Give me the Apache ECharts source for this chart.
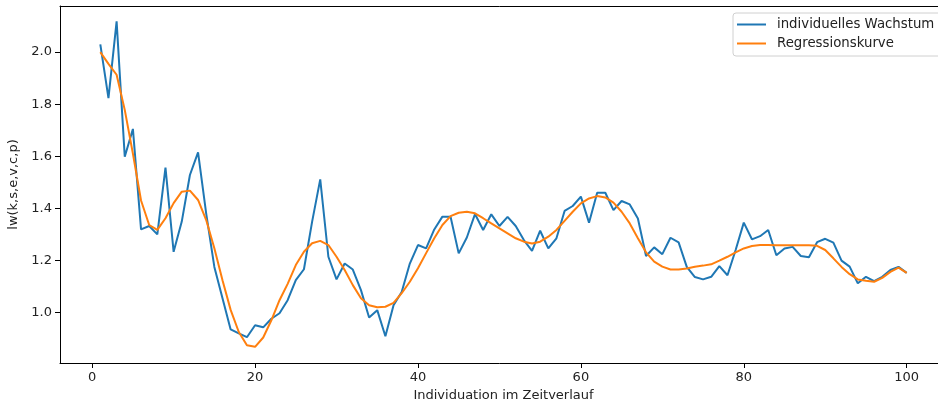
<!DOCTYPE html>
<html>
<head>
<meta charset="utf-8">
<script src="https://cdn.jsdelivr.net/npm/echarts@6/dist/echarts.min.js"></script>
<style>html,body{margin:0;padding:0;background:#fff;}#c{width:938px;height:407px;}</style>
</head>
<body>
<div id="c"></div>
<script>
const xValues = [];
for (let i = 1; i <= 100; i++) xValues.push(i);

const wachstum = [2.03,1.823,2.118,1.598,1.705,1.319,1.332,1.30,1.556,1.233,
1.349,1.528,1.615,1.38,1.175,1.055,0.935,0.92,0.905,0.951,
0.943,0.976,0.997,1.047,1.124,1.166,1.348,1.511,1.214,1.127,
1.188,1.165,1.086,0.981,1.009,0.909,1.028,1.079,1.188,1.259,
1.246,1.319,1.368,1.368,1.227,1.288,1.378,1.317,1.377,1.332,
1.367,1.332,1.278,1.237,1.314,1.246,1.285,1.39,1.409,1.445,
1.345,1.46,1.46,1.393,1.428,1.415,1.361,1.217,1.25,1.224,
1.287,1.269,1.175,1.136,1.127,1.137,1.178,1.143,1.24,1.345,
1.281,1.293,1.317,1.22,1.246,1.252,1.217,1.212,1.27,1.283,
1.268,1.199,1.176,1.112,1.137,1.12,1.137,1.163,1.175,1.152];

const regression = [2.00,1.955,1.913,1.778,1.61,1.43,1.336,1.317,1.362,1.42,
1.464,1.468,1.432,1.355,1.247,1.124,1.01,0.925,0.874,0.868,
0.904,0.97,1.047,1.11,1.182,1.233,1.266,1.275,1.259,1.214,
1.163,1.105,1.055,1.028,1.02,1.022,1.037,1.074,1.118,1.17,
1.228,1.285,1.336,1.37,1.383,1.387,1.381,1.362,1.342,1.323,
1.304,1.285,1.272,1.265,1.272,1.291,1.317,1.352,1.387,1.419,
1.438,1.447,1.442,1.422,1.387,1.342,1.285,1.231,1.195,1.176,
1.165,1.165,1.169,1.176,1.18,1.185,1.199,1.214,1.231,1.246,
1.255,1.259,1.259,1.258,1.258,1.258,1.258,1.258,1.256,1.24,
1.208,1.175,1.147,1.127,1.122,1.118,1.133,1.156,1.172,1.152];

const xTicks = [0, 20, 40, 60, 80, 100];
const yTicks = [1.0, 1.2, 1.4, 1.6, 1.8, 2.0];

const font = 'DejaVu Sans';
const chart = echarts.init(document.getElementById('c'), null, {renderer: 'canvas'});
chart.setOption({
  animation: false,
  backgroundColor: '#fff',
  grid: {left: 60, right: -9, top: 6, bottom: 44, outerBoundsMode: 'none', containLabel: false, show: false},
  legend: {
    orient: 'vertical', left: 733, top: 13,
    data: ['individuelles Wachstum', 'Regressionskurve'],
    icon: 'rect', itemWidth: 29, itemHeight: 2, itemGap: 6,
    padding: [5, 16, 6, 4],
    borderColor: '#d0d0d0', borderWidth: 1, borderRadius: 3,
    backgroundColor: 'rgba(255,255,255,0.8)',
    textStyle: {fontFamily: font, fontSize: 13.3, color: '#222', padding: [0, 0, 0, 6]}
  },
  xAxis: [{
    type: 'value', min: -3.95, max: 104.95,
    name: 'Individuation im Zeitverlauf', nameLocation: 'middle', nameGap: 26,
    nameTextStyle: {fontFamily: font, fontSize: 13, color: '#222'},
    axisLine: {show: true, onZero: false, lineStyle: {color: '#000', width: 1}},
    axisTick: {show: true, length: 5, lineStyle: {color: '#000'}, customValues: xTicks},
    axisLabel: {fontFamily: font, fontSize: 13, color: '#222', margin: 8, customValues: xTicks, formatter: v => String(v)},
    splitLine: {show: false}
  }, {
    type: 'value', position: 'top', min: -3.95, max: 104.95,
    axisLine: {show: true, onZero: false, lineStyle: {color: '#000', width: 1}},
    axisTick: {show: false}, axisLabel: {show: false}, splitLine: {show: false}
  }],
  yAxis: {
    type: 'value', min: 0.806, max: 2.177,
    name: 'lw(k,s,e,v,c,p)', nameLocation: 'middle', nameGap: 37, nameRotate: 90,
    nameTextStyle: {fontFamily: font, fontSize: 13, color: '#222'},
    axisLine: {show: true, onZero: false, lineStyle: {color: '#000', width: 1}},
    axisTick: {show: true, length: 5, lineStyle: {color: '#000'}, customValues: yTicks},
    axisLabel: {fontFamily: font, fontSize: 13, color: '#222', margin: 8, customValues: yTicks, formatter: v => v.toFixed(1)},
    splitLine: {show: false}
  },
  series: [
    {name: 'individuelles Wachstum', type: 'line', data: xValues.map((x, i) => [x, wachstum[i]]),
     showSymbol: false, symbol: 'none', lineStyle: {color: '#1f77b4', width: 2}, itemStyle: {color: '#1f77b4'}},
    {name: 'Regressionskurve', type: 'line', data: xValues.map((x, i) => [x, regression[i]]),
     showSymbol: false, symbol: 'none', lineStyle: {color: '#ff7f0e', width: 2}, itemStyle: {color: '#ff7f0e'}}
  ]
});
</script>
</body>
</html>
